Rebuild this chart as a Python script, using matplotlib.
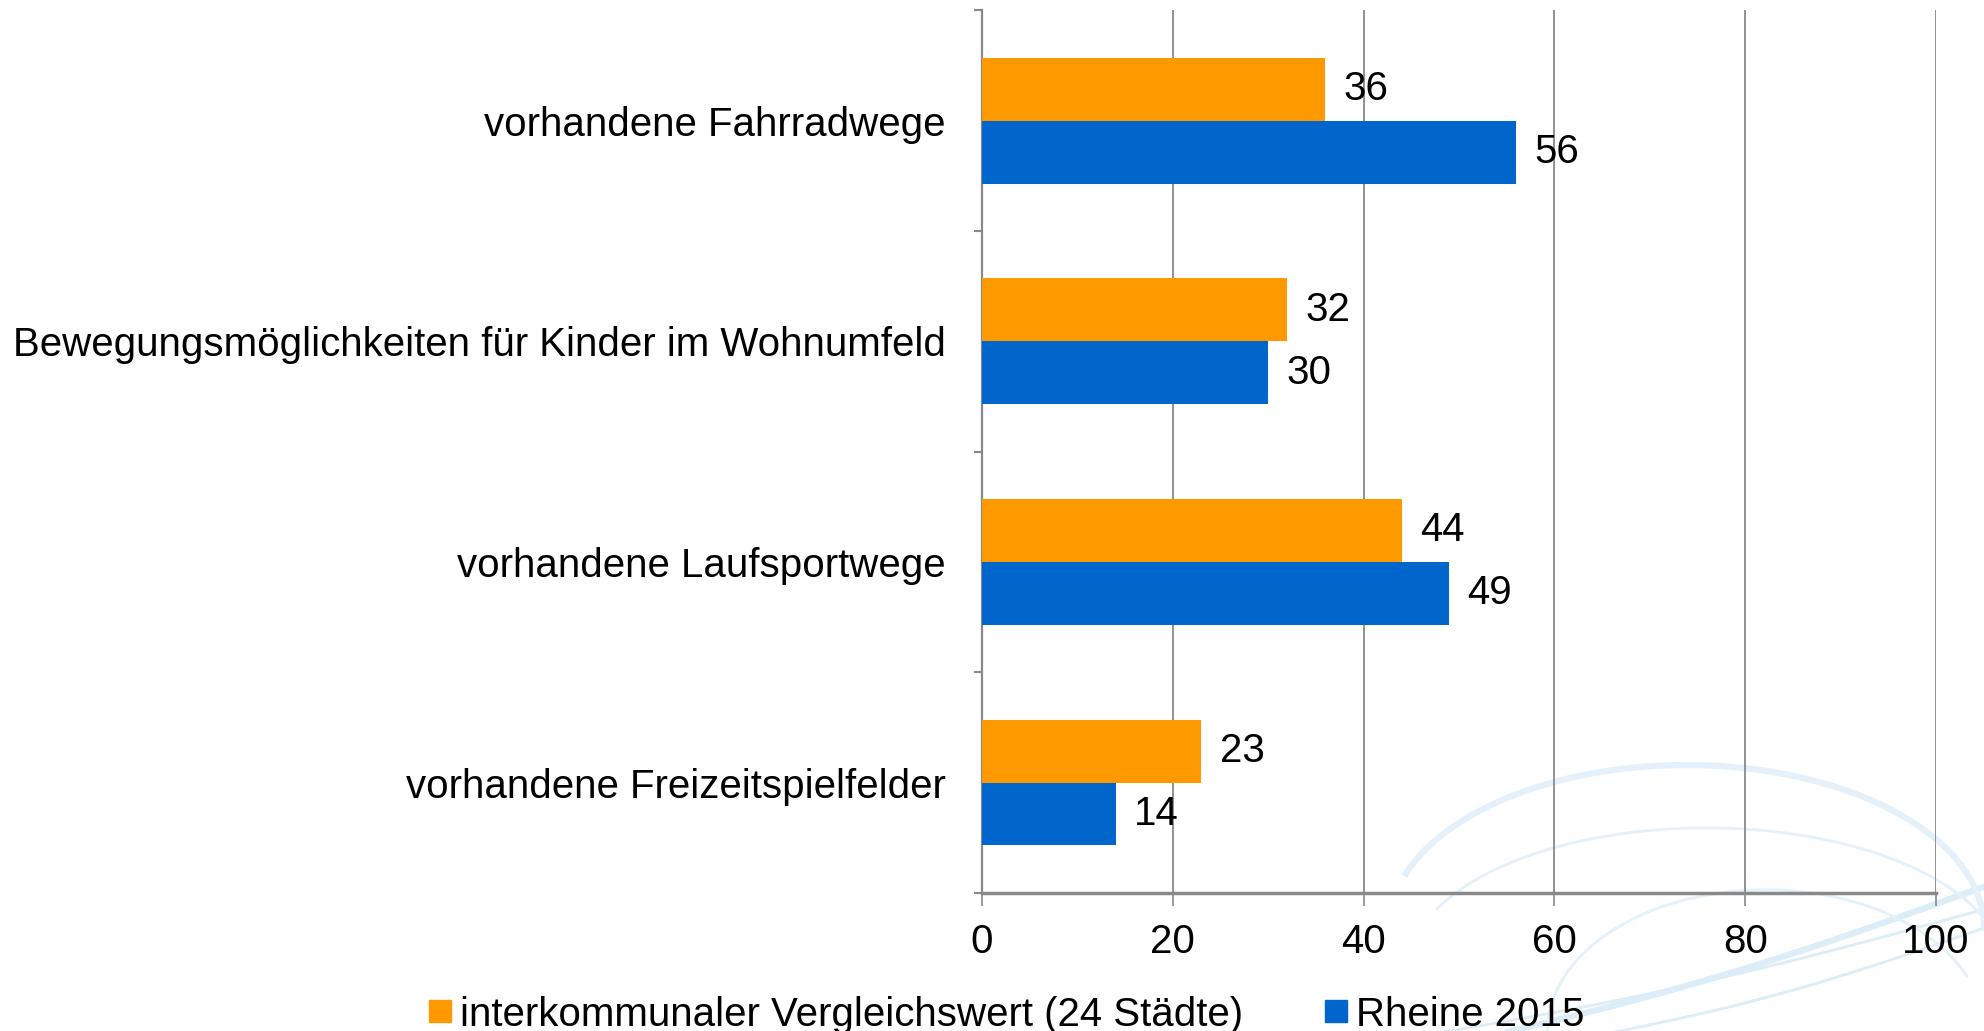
import numpy as np
import matplotlib.pyplot as plt
from matplotlib.lines import Line2D

plt.rcParams['font.family'] = ['Liberation Sans', 'DejaVu Sans']

categories = ['vorhandene Fahrradwege',
              'Bewegungsmöglichkeiten für Kinder im Wohnumfeld',
              'vorhandene Laufsportwege',
              'vorhandene Freizeitspielfelder']
vergleich = [36, 32, 44, 23]
rheine = [56, 30, 49, 14]
series_names = ['interkommunaler Vergleichswert (24 Städte)', 'Rheine 2015']
xticks = [0, 20, 40, 60, 80, 100]

orange = '#FF9900'
blue = '#0066CC'
grey = '#898989'
fs = 29

fig = plt.figure(figsize=(19.84, 10.31), dpi=100)

# faint watermark swooshes behind the chart
bg = fig.add_axes([0, 0, 1, 1], zorder=0)
bg.set_xlim(0, 1)
bg.set_ylim(0, 1)
bg.axis('off')
t = np.linspace(0, 1, 200)
for (x0, y0, x1, y1, bend, lw) in [(0.74, -0.01, 1.0, 0.14, 0.01, 4.5),
                                    (0.70, -0.01, 1.0, 0.118, 0.01, 2),
                                    (0.79, -0.01, 1.0, 0.10, 0.01, 2)]:
    xs = x0 + (x1 - x0) * t
    ys = y0 + (y1 - y0) * t - bend * np.sin(np.pi * t)
    bg.plot(xs, ys, color='#DCEDF8', lw=lw, solid_capstyle='round')
for (cx, cy, rx, ry, a0, a1, lw) in [(0.85, 0.10, 0.15, 0.158, 0.0, 2.8, 4.5),
                                      (0.86, 0.06, 0.15, 0.137, 0.3, 2.7, 2),
                                      (0.89, 0.0, 0.11, 0.137, 0.4, 3.14, 2)]:
    a = np.linspace(a0, a1, 200)
    bg.plot(cx + rx * np.cos(a), cy + ry * np.sin(a), color='#E4F1FA', lw=lw)

ax = fig.add_axes([0.495, 0.134, 0.4808, 0.856], zorder=1)
ax.patch.set_alpha(0)

y = np.arange(len(categories))
h = 0.285
b1 = ax.barh(y - h / 2, vergleich, height=h, color=orange, zorder=3)
b2 = ax.barh(y + h / 2, rheine, height=h, color=blue, zorder=3)

for bars, vals in [(b1, vergleich), (b2, rheine)]:
    for bar, v in zip(bars, vals):
        ax.annotate(str(v), (bar.get_width(), bar.get_y() + bar.get_height() / 2),
                    xytext=(13, 0), textcoords='offset points',
                    ha='left', va='center', fontsize=fs, zorder=4)

ax.set_xlim(0, 100)
ax.set_ylim(len(categories) - 0.5, -0.5)
ax.set_xticks(xticks)
ax.set_xticklabels([str(v) for v in xticks], fontsize=fs)
ax.set_yticks(y)
ax.set_yticklabels(categories, fontsize=fs)
ax.set_yticks(np.arange(len(categories) + 1) - 0.5, minor=True)

ax.tick_params(axis='y', which='major', length=0, pad=26)
ax.tick_params(axis='y', which='minor', length=6, width=1.5, color=grey, direction='out')
ax.tick_params(axis='x', length=9, width=1.2, color=grey, direction='out', pad=13)

ax.grid(axis='x', color=grey, lw=1.3, zorder=1)
for s in ['top', 'right']:
    ax.spines[s].set_visible(False)
ax.spines['left'].set_color(grey)
ax.spines['left'].set_linewidth(1.6)
ax.spines['bottom'].set_color(grey)
ax.spines['bottom'].set_linewidth(2.5)
ax.spines['bottom'].set_zorder(4)

handles = [Line2D([], [], marker='s', color=c, ls='', markersize=16) for c in (orange, blue)]
fig.legend(handles, series_names, loc='center', bbox_to_anchor=(0.505, 0.016), ncol=2,
           frameon=False, fontsize=fs, handletextpad=0.0, columnspacing=1.8, handlelength=1.0,
           borderpad=0.0)

fig.savefig('out.png', dpi=100)
